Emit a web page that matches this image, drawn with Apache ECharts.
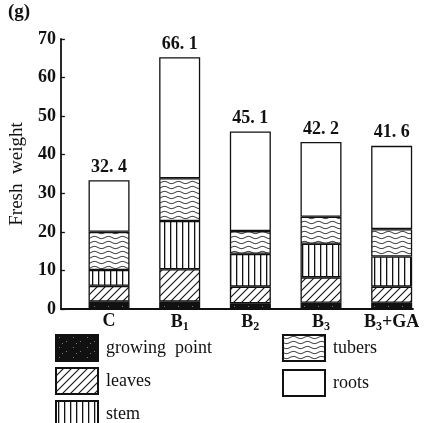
<!DOCTYPE html>
<html>
<head>
<meta charset="utf-8">
<script src="https://cdn.jsdelivr.net/npm/echarts@6/dist/echarts.min.js"></script>
<style>
  html, body { margin: 0; padding: 0; background: #fff; }
  #chart { width: 427px; height: 423px; }
</style>
</head>
<body>
<div id="chart"></div>
<script>
// data (g fresh weight per part)
const categories = ['C', 'B1', 'B2', 'B3', 'B3+GA']
const growingPoint = [1.9, 1.9, 1.5, 1.6, 1.6]
const leaves = [4.1, 8.4, 4.3, 6.6, 4.2]
const stem = [4.1, 12.5, 8.5, 8.7, 7.8]
const tubers = [9.9, 11.1, 5.9, 7.0, 7.1]
const roots = [13.4, 31.4, 25.8, 19.4, 21.6]
const totals = ['32. 4', '66. 1', '45. 1', '42. 2', '41. 6']
const yTicks = [0, 10, 20, 30, 40, 50, 60, 70]

const FONT = 'Liberation Serif'
const INK = '#111'

// hatch patterns drawn on small canvases
const makePattern = (w, h, draw) => {
  const c = document.createElement('canvas')
  c.width = w
  c.height = h
  const ctx = c.getContext('2d')
  ctx.fillStyle = '#fff'
  ctx.fillRect(0, 0, w, h)
  ctx.strokeStyle = INK
  ctx.fillStyle = INK
  draw(ctx)
  return { image: c, repeat: 'repeat' }
}

const blackPattern = makePattern(14, 10, ctx => {
  ctx.fillRect(0, 0, 14, 10)
  ctx.fillStyle = '#777'
  ctx.fillRect(3, 2, 1, 1)
  ctx.fillRect(10, 6, 1, 1)
  ctx.fillRect(6, 8, 1, 1)
})

const diagPattern = makePattern(8, 8, ctx => {
  ctx.lineWidth = 1.1
  ctx.beginPath()
  ctx.moveTo(-1, 9); ctx.lineTo(9, -1)
  ctx.moveTo(-5, 5); ctx.lineTo(5, -5)
  ctx.moveTo(3, 13); ctx.lineTo(13, 3)
  ctx.stroke()
})

const vertPattern = makePattern(6, 6, ctx => {
  ctx.fillRect(2, 0, 1.3, 6)
})

const wavePattern = makePattern(14, 5, ctx => {
  ctx.lineWidth = 1
  ctx.beginPath()
  for (let x = 0; x <= 14; x += 0.5) {
    const y = 2.5 + 1.1 * Math.sin((x / 14) * Math.PI * 2)
    if (x === 0) ctx.moveTo(x, y)
    else ctx.lineTo(x, y)
  }
  ctx.stroke()
})

const partStyle = fill => ({
  color: fill,
  borderColor: INK,
  borderWidth: 1.3
})

const barSeries = (name, data, fill) => ({
  name,
  type: 'bar',
  stack: 'total',
  xAxisIndex: 0,
  yAxisIndex: 0,
  barWidth: 41,
  data,
  itemStyle: partStyle(fill),
  emphasis: { disabled: true }
})

const rootsSeries = barSeries('roots', roots, '#fff')
rootsSeries.label = {
  show: true,
  position: 'top',
  distance: 4,
  fontFamily: FONT,
  fontSize: 18,
  fontWeight: 'bold',
  color: INK,
  formatter: p => totals[p.dataIndex]
}

const legendText = {
  fontFamily: FONT,
  fontSize: 18,
  color: INK,
  padding: [0, 0, 0, 3]
}

// one legend per row, so nothing wraps at the bottom edge
const legendRow = (name, left, top) => ({
  data: [name],
  left,
  top,
  icon: 'rect',
  itemWidth: 42,
  itemHeight: 26,
  itemGap: 8,
  padding: 0,
  selectedMode: false,
  textStyle: legendText
})

const chart = echarts.init(document.getElementById('chart'))

chart.setOption({
  animation: false,
  backgroundColor: '#fff',
  title: {
    text: '(g)',
    left: 8,
    top: 3,
    padding: 0,
    textStyle: { fontFamily: FONT, fontSize: 19, fontWeight: 'bold', color: INK }
  },
  grid: [
    { left: 73.7, right: 0, top: 39, bottom: 114 },
    { left: 58, right: 14, top: 39, bottom: 114 }
  ],
  legend: [
    legendRow('growing  point', 55, 334),
    legendRow('leaves', 55, 367),
    legendRow('stem', 55, 400),
    legendRow('tubers', 282, 334),
    legendRow('roots', 282, 369)
  ],
  xAxis: [
    {
      type: 'category',
      gridIndex: 0,
      data: categories,
      axisLine: { show: false },
      axisTick: { show: false },
      axisLabel: {
        margin: 3,
        interval: 0,
        formatter: v => {
          const m = v.match(/^B(\d)(.*)$/)
          if (!m) return '{b|' + v + '}'
          return '{b|B}{s|' + m[1] + '}' + (m[2] ? '{b|' + m[2] + '}' : '')
        },
        rich: {
          b: { fontFamily: FONT, fontSize: 18, fontWeight: 'bold', color: INK },
          s: { fontFamily: FONT, fontSize: 12, fontWeight: 'bold', color: INK, padding: [9, 0, 0, 0] }
        }
      }
    },
    {
      type: 'value',
      gridIndex: 1,
      min: 0,
      max: 1,
      axisLine: { show: true, lineStyle: { color: INK, width: 1.8 } },
      axisTick: { show: false },
      axisLabel: { show: false },
      splitLine: { show: false }
    }
  ],
  yAxis: [
    {
      type: 'value',
      gridIndex: 0,
      min: 0,
      max: 70,
      interval: 10,
      show: false
    },
    {
      type: 'value',
      gridIndex: 1,
      min: yTicks[0],
      max: yTicks[yTicks.length - 1],
      interval: 10,
      name: 'Fresh  weight',
      nameLocation: 'middle',
      nameGap: 29,
      nameTextStyle: {
        fontFamily: FONT,
        fontSize: 19,
        color: INK
      },
      axisLine: { show: true, lineStyle: { color: INK, width: 1.8 } },
      axisTick: { show: true, inside: true, length: 4, lineStyle: { color: INK, width: 1.3 } },
      axisLabel: {
        margin: 5,
        fontFamily: FONT,
        fontSize: 18,
        fontWeight: 'bold',
        color: INK
      },
      splitLine: { show: false }
    }
  ],
  series: [
    barSeries('growing  point', growingPoint, blackPattern),
    barSeries('leaves', leaves, diagPattern),
    barSeries('stem', stem, vertPattern),
    barSeries('tubers', tubers, wavePattern),
    rootsSeries
  ]
})
</script>
</body>
</html>
